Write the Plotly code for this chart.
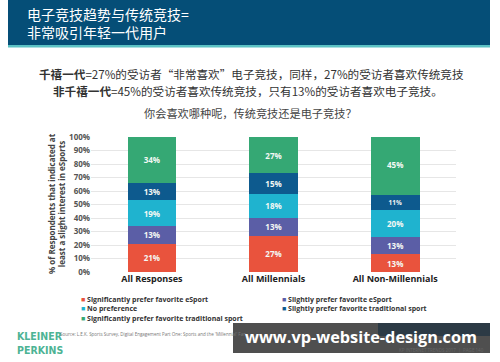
import plotly.graph_objects as go

categories = ["All Responses", "All Millennials", "All Non-Millennials"]
series_names = [
    "Significantly prefer favorite eSport",
    "Slightly prefer favorite eSport",
    "No preference",
    "Slightly prefer favorite traditional sport",
    "Significantly prefer favorite traditional sport",
]
sig_esport = [21, 27, 13]
slight_esport = [13, 13, 13]
no_pref = [19, 18, 20]
slight_trad = [13, 15, 11]
sig_trad = [34, 27, 45]
series_values = [sig_esport, slight_esport, no_pref, slight_trad, sig_trad]
colors = ["#e9533d", "#5b5ea6", "#1fb3cf", "#0d5a8e", "#35a874"]
y_ticks = [0, 10, 20, 30, 40, 50, 60, 70, 80, 90, 100]
y_ticklabels = [f"{v}%" for v in y_ticks]

W, H = 500, 362
L, R, T, B = 91, 44, 137, 90
PW, PH = W - L - R, H - T - B


def X(px):
    return (px - L) / PW


def Y(py):
    return (H - B - py) / PH


CJK = "Noto Sans CJK SC, Noto Sans, sans-serif"
LAT = "Open Sans, Noto Sans, sans-serif"

fig = go.Figure()
for name, vals, col in zip(series_names, series_values, colors):
    fig.add_trace(go.Bar(
        x=categories, y=vals, name=name, marker=dict(color=col, line=dict(width=0)),
        text=[f"{v}%" for v in vals], textposition="inside", insidetextanchor="middle",
        textfont=dict(color="#f4f8f4", size=8, family=LAT, weight="bold"),
        showlegend=False, width=0.4, hoverinfo="skip",
    ))

shapes = [
    dict(type="rect", xref="paper", yref="paper", x0=X(8), x1=X(490), y0=Y(45), y1=Y(0),
         fillcolor="#054e77", line=dict(width=0), layer="below"),
    dict(type="rect", xref="paper", yref="paper", x0=X(8), x1=X(490), y0=Y(47.5), y1=Y(45),
         fillcolor="#5cc2c4", line=dict(width=0), layer="below"),
    # watermark overlay
    dict(type="rect", xref="paper", yref="paper", x0=X(233), x1=X(490), y0=Y(353), y1=Y(323),
         fillcolor="#4f4f4f", line=dict(width=0), layer="above"),
    dict(type="rect", xref="paper", yref="paper", x0=X(378), x1=X(490), y0=Y(336), y1=Y(323),
         fillcolor="#2c3a45", line=dict(width=0), layer="above"),
]

annotations = [
    dict(text="电子竞技趋势与传统竞技=<br>非常吸引年轻一代用户", x=X(25), y=Y(22.5), xanchor="left", yanchor="middle",
         align="left", showarrow=False, xref="paper", yref="paper",
         font=dict(family=CJK, size=14, color="white")),
    dict(text="<b>千禧一代</b>=27%的受访者“非常喜欢”电子竞技，同样，27%的受访者喜欢传统竞技",
         x=X(251), y=Y(74), xanchor="center", yanchor="middle", showarrow=False, xref="paper", yref="paper",
         font=dict(family=CJK, size=11.6, color="#333333")),
    dict(text="<b>非千禧一代</b>=45%的受访者喜欢传统竞技，只有13%的受访者喜欢电子竞技。",
         x=X(248), y=Y(91), xanchor="center", yanchor="middle", showarrow=False, xref="paper", yref="paper",
         font=dict(family=CJK, size=11.6, color="#333333")),
    dict(text="你会喜欢哪种呢，传统竞技还是电子竞技？",
         x=X(250), y=Y(113), xanchor="center", yanchor="middle", showarrow=False, xref="paper", yref="paper",
         font=dict(family=CJK, size=11.2, color="#444444")),
    dict(text="% of Respondents that indicated at<br>least a slight interest in eSports",
         x=X(56), y=Y(204), xanchor="center", yanchor="middle", textangle=-90, showarrow=False,
         xref="paper", yref="paper", font=dict(family=LAT, size=8, color="#444444", weight="bold")),
]

legend_pos = [(79, 299), (280, 299), (79, 308.5), (280, 308.5), (79, 318)]
for i, (px, py) in enumerate(legend_pos):
    annotations.append(dict(
        text=f"<span style='color:{colors[i]}'>■</span> {series_names[i]}",
        x=X(px), y=Y(py), xanchor="left", yanchor="middle", showarrow=False, xref="paper", yref="paper",
        font=dict(family=LAT, size=7, color="#333333", weight="bold")))

annotations += [
    dict(text="KLEINER<br>PERKINS", x=X(15), y=Y(343), xanchor="left", yanchor="middle", align="left",
         showarrow=False, xref="paper", yref="paper",
         font=dict(family="DejaVu Sans Condensed, Liberation Sans Narrow, Roboto, sans-serif", size=10.5,
                   color="#4db394", weight="bold")),
    dict(text="Source: L.E.K. Sports Survey, Digital Engagement Part One: Sports and the 'Millennial' Fan",
         x=X(58), y=Y(334), xanchor="left", yanchor="middle", showarrow=False, xref="paper", yref="paper",
         font=dict(family=LAT, size=4.5, color="#777777")),
    dict(text="KP INTERNET TRENDS 2017  |  PAGE 140", x=X(486), y=Y(349.5), xanchor="right", yanchor="middle",
         showarrow=False, xref="paper", yref="paper", font=dict(family=LAT, size=4.5, color="#666666")),
    dict(text="<b>www.vp-website-design.com</b>", x=X(361), y=Y(336.5), xanchor="center", yanchor="middle",
         showarrow=False, xref="paper", yref="paper",
         font=dict(family="Open Sans, DejaVu Sans, sans-serif", size=16.3, color="white")),
]

fig.update_layout(
    width=W, height=H, margin=dict(l=L, r=R, t=T, b=B),
    paper_bgcolor="white", plot_bgcolor="white", barmode="stack",
    shapes=shapes, annotations=annotations, showlegend=False,
    xaxis=dict(showgrid=False, zeroline=False, showline=False, ticks="",
               tickfont=dict(family=LAT, size=9, color="#222222", weight="bold")),
    yaxis=dict(range=[0, 100], tickvals=y_ticks, ticktext=y_ticklabels, showgrid=True,
               gridcolor="#e6e6e6", gridwidth=1, zeroline=False, showline=False, ticks="",
               tickfont=dict(family=LAT, size=8, color="#555555", weight="bold")),
)

fig.write_html("out.html")
